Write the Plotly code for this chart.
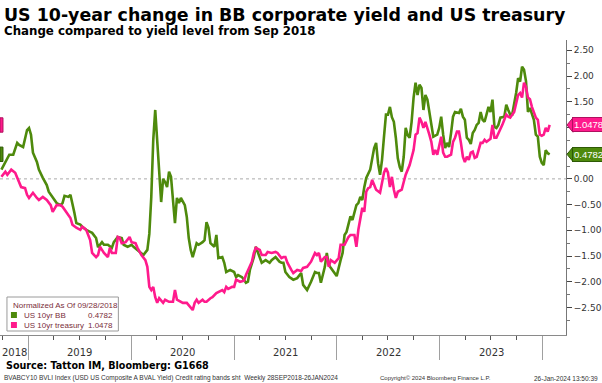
import pandas as pd
import plotly.graph_objects as go

# ---- data (weeks since 2018-09-28) ----
start_date = "2018-09-28"

bb_weeks = [0, 3, 4, 6, 8, 9, 11, 13, 14, 15, 16, 18, 19, 21, 23, 24, 26, 28, 30, 31, 32, 34, 35, 36, 37, 38,
            40, 41, 43, 45, 46, 48, 49, 51, 52, 54, 56, 57, 59, 61, 62, 64, 66, 67, 69, 71, 72, 74, 75, 76,
            77, 78, 79, 80, 81, 82, 83, 84, 85, 86, 87, 88, 89, 90, 91, 93, 94, 95, 96, 97, 99, 100, 102,
            103, 104, 105, 106, 108, 109, 110, 112, 113, 114, 116, 118, 119, 120, 122, 124, 125, 126, 128,
            129, 131, 132, 134, 136, 137, 139, 141, 142, 143, 144, 146, 147, 148, 150, 152, 153, 154, 155,
            157, 159, 160, 161, 162, 164, 165, 166, 167, 169, 170, 172, 173, 174, 175, 177, 178, 180, 181,
            182, 183, 184, 185, 187, 188, 189, 190, 191, 192, 193, 194, 195, 196, 197, 198, 199, 200, 201,
            202, 203, 204, 205, 206, 207, 208, 209, 210, 211, 212, 213, 214, 215, 216, 217, 218, 219, 220,
            221, 222, 223, 224, 225, 226, 227, 228, 229, 230, 232, 233, 234, 235, 236, 237, 238, 239, 240,
            241, 242, 243, 244, 245, 246, 247, 248, 249, 250, 251, 252, 253, 255, 256, 257, 258, 259, 260,
            261, 262, 263, 264, 265, 266, 267, 268, 269, 270, 271, 272, 273, 274, 275, 276, 277, 278]
bb_values = [0.18, 0.41, 0.47, 0.47, 0.70, 0.66, 0.62, 0.95, 0.99, 0.86, 0.51, 0.33, 0.18, 0.02, -0.12, -0.25,
             -0.37, -0.47, -0.51, -0.47, -0.33, -0.35, -0.31, -0.47, -0.66, -0.86,
             -0.89, -0.93, -0.99, -1.03, -1.05, -1.15, -1.33, -1.23, -1.28, -1.28, -1.34, -1.23, -1.13, -1.15,
             -1.28, -1.32, -1.28, -1.32, -1.38, -1.44, -1.48, -1.38, -1.07, -0.35,
             0.76, 1.34, 0.75, 0.18, -0.45, 0.00, -0.06, -0.16, 0.14, 0.04, -0.38, -0.86, -0.37, -0.47, -0.37,
             -0.51, -0.74, -1.15, -1.38, -1.52, -1.25, -1.28, -1.23,
             -1.19, -0.84, -0.95, -1.25, -1.32, -1.09, -1.54, -1.52, -1.63, -1.81, -1.77, -1.81, -1.91, -1.87,
             -1.91, -2.02, -2.00, -1.77, -1.52,
             -1.32, -1.52, -1.63, -1.58, -1.63, -1.58, -1.52, -1.61, -1.63, -1.63, -1.81, -1.91, -1.93, -1.96,
             -1.93, -1.83, -2.06, -2.10, -2.16,
             -2.00, -1.81, -1.83, -1.83, -2.02, -1.71, -1.44, -1.67, -1.73, -1.83, -1.89, -1.58, -1.44, -1.09,
             -1.03, -0.73, -0.80, -0.51, -0.47,
             -0.35, -0.41, -0.16, 0.02, 0.18, 0.37, 0.60, 0.70, 0.30, 0.08, 0.37, 0.82, 1.25, 1.25, 1.40, 1.20,
             1.11, 0.80, 0.40,
             0.23, 0.14, 0.43, 0.99, 0.85, 0.80, 1.11, 1.58, 1.87, 1.63, 1.83, 1.77, 1.34, 1.63, 1.54, 1.30,
             1.11, 0.82, 0.84,
             0.86, 0.99, 1.21, 0.86, 0.60, 0.70, 0.62, 0.89, 1.21, 1.30, 1.28, 1.36, 1.21, 1.15, 0.80, 0.76,
             0.68, 0.89, 0.95,
             1.05, 1.09, 1.30, 1.15, 1.11, 1.25, 1.40, 1.30, 1.54, 1.01, 0.99, 1.05, 1.19, 1.21, 1.44, 1.34,
             1.25, 1.25, 1.44,
             1.67, 1.96, 1.89, 2.18, 2.12, 1.90, 1.30, 1.38, 1.28, 1.15, 0.86, 0.82, 0.43, 0.31, 0.27, 0.56,
             0.50, 0.4782]

ust_weeks = [0, 2, 3, 5, 7, 8, 10, 12, 13, 14, 16, 18, 19, 21, 23, 25, 26, 28, 30, 31, 33, 35, 36, 38, 40, 41,
             43, 45, 46, 47, 48, 49, 50, 51, 52, 54, 55, 56, 58, 59, 60, 61, 63, 65, 66, 68, 69, 71, 72, 73,
             74, 75, 76, 77, 78, 79, 80, 82, 83, 85, 87, 88, 89, 91, 92, 94, 96, 97, 98, 99, 100, 102, 103,
             104, 106, 107, 109, 110, 112, 113, 114, 115, 117, 118, 119, 121, 123, 124, 125, 127, 128, 129,
             131, 132, 134, 135, 137, 139, 140, 142, 143, 144, 145, 146, 147, 148, 150, 152, 153, 155, 157,
             159, 160, 161, 162, 164, 165, 166, 167, 169, 170, 171, 172, 174, 176, 177, 179, 180, 181, 182,
             183, 184, 185, 186, 187, 188, 189, 190, 192, 193, 194, 195, 196, 197, 198, 199, 200, 201, 203,
             204, 205, 207, 209, 210, 211, 212, 213, 214, 215, 217, 218, 219, 220, 221, 222, 223, 224, 225,
             226, 228, 229, 230, 231, 232, 233, 234, 235, 236, 237, 238, 239, 240, 241, 243, 244, 245, 246,
             248, 249, 250, 251, 253, 254, 255, 256, 257, 258, 260, 261, 262, 263, 264, 265, 266, 267, 268,
             269, 270, 271, 272, 273, 274, 275, 276, 277, 278]
ust_values = [0.04, 0.14, 0.08, 0.18, 0.12, 0.02, -0.16, -0.18, -0.31, -0.37, -0.27, -0.37, -0.41, -0.35,
              -0.41, -0.51, -0.64, -0.51, -0.51, -0.54, -0.64, -0.76, -0.89, -0.95, -0.99, -0.93,
              -0.99, -1.19, -1.44, -1.48, -1.52, -1.48, -1.32, -1.38, -1.44, -1.52, -1.34, -1.44, -1.44,
              -1.13, -1.15, -1.25, -1.23, -1.13, -1.23, -1.25, -1.34, -1.48, -1.52, -1.58,
              -1.71, -2.10, -2.16, -2.10, -2.30, -2.41, -2.32, -2.41, -2.35, -2.39, -2.39, -2.16, -2.35,
              -2.39, -2.41, -2.41, -2.51, -2.55, -2.41, -2.35, -2.41, -2.35, -2.39,
              -2.39, -2.32, -2.30, -2.22, -2.20, -2.16, -2.20, -2.10, -2.14, -2.10, -2.10, -1.96, -2.00,
              -1.98, -1.87, -1.77, -1.61, -1.44, -1.34,
              -1.38, -1.48, -1.48, -1.42, -1.44, -1.42, -1.44, -1.54, -1.52, -1.52, -1.63, -1.71, -1.77,
              -1.83, -1.77, -1.79, -1.73, -1.71, -1.61,
              -1.44, -1.48, -1.44, -1.61, -1.52, -1.52, -1.71, -1.58, -1.63, -1.58, -1.54, -1.28, -1.28,
              -1.13, -1.09, -1.09, -1.32, -0.99, -0.80,
              -0.56, -0.64, -0.25, -0.18, -0.16, -0.02, -0.12, -0.21, -0.27, -0.08, 0.12, 0.21, 0.12, -0.16,
              0.04, -0.21, -0.37, -0.25, -0.21,
              -0.06, 0.08, 0.27, 0.56, 0.86, 0.89, 1.19, 1.11, 0.99, 1.11, 0.86, 0.72, 0.47, 0.56, 0.47, 0.66,
              0.82, 0.51, 0.43,
              0.43, 0.47, 0.72, 0.80, 0.92, 0.92, 0.70, 0.43, 0.33, 0.43, 0.37, 0.51, 0.53, 0.41, 0.43, 0.70,
              0.70, 0.76, 0.72,
              0.78, 1.05, 0.80, 0.80, 0.95, 1.05, 1.15, 1.25, 1.21, 1.19, 1.30, 1.44, 1.63, 1.67, 1.58, 1.87,
              1.79, 1.58, 1.55,
              1.40, 1.28, 1.19, 1.15, 0.86, 0.84, 0.86, 0.99, 0.92, 1.0478]

series_names = ["US 10yr BB", "US 10yr treasury"]
last_values = ["0.4782", "1.0478"]
year_labels = ["2018", "2019", "2020", "2021", "2022", "2023"]
year_label_dates = ["2018-11-12", "2019-07-02", "2020-07-02", "2021-07-02", "2022-07-02", "2023-07-02"]
year_bounds = ["2019-01-01", "2020-01-01", "2021-01-01", "2022-01-01", "2023-01-01", "2024-01-01"]
y_ticks = [-2.5, -2.0, -1.5, -1.0, -0.5, 0.0, 0.5, 1.0, 1.5, 2.0, 2.5]
y_minor_ticks = [-2.75, -2.25, -1.75, -1.25, -0.75, -0.25, 0.25, 0.75, 1.25, 1.75, 2.25]

GREEN = "#4E8A0C"
PINK = "#FF1A8C"

t0 = pd.Timestamp(start_date)
bb_dates = [t0 + pd.Timedelta(weeks=w) for w in bb_weeks]
ust_dates = [t0 + pd.Timedelta(weeks=w) for w in ust_weeks]

# plot-area pixel helpers (plot area: x 0..569, y 40..335)
PW, PT, PB = 569.0, 40.0, 335.0
def px(x):
    return x / PW
def py(y):
    return (PB - y) / (PB - PT)

fig = go.Figure()
fig.add_trace(go.Scatter(x=bb_dates, y=bb_values, mode="lines", name=series_names[0],
                         line=dict(color=GREEN, width=2.6), hoverinfo="skip"))
fig.add_trace(go.Scatter(x=ust_dates, y=ust_values, mode="lines", name=series_names[1],
                         line=dict(color=PINK, width=2.6), hoverinfo="skip"))

FONT = "DejaVu Sans"
ann = []
shapes = []

# title / subtitle
ann.append(dict(text="<b>US 10-year change in BB corporate yield and US treasury</b>", x=px(2), y=py(15),
                xref="paper", yref="paper", xanchor="left", yanchor="middle", showarrow=False,
                font=dict(family=FONT, size=17.4, color="#000")))
ann.append(dict(text="<b>Change compared to yield level from Sep 2018</b>", x=px(2), y=py(31),
                xref="paper", yref="paper", xanchor="left", yanchor="middle", showarrow=False,
                font=dict(family=FONT, size=11.8, color="#000")))

# year labels
for lab, d in zip(year_labels, year_label_dates):
    ann.append(dict(text=lab, x=d, y=py(352), xref="x", yref="paper", xanchor="center", yanchor="middle",
                    showarrow=False, font=dict(family=FONT, size=10, color="#333")))

# source & footer
ann.append(dict(text="<b>Source: Tatton IM, Bloomberg: G1668</b>", x=px(4), y=py(366), xref="paper",
                yref="paper", xanchor="left", yanchor="middle", showarrow=False,
                font=dict(family=FONT, size=9.6, color="#000")))
ann.append(dict(text="BVABCY10 BVLI Index (USD US Composite A BVAL Yield) Credit rating bands sht  Weekly 28SEP2018-26JAN2024",
                x=px(2), y=py(378), xref="paper", yref="paper", xanchor="left", yanchor="middle",
                showarrow=False, font=dict(family="Liberation Sans", size=6.5, color="#333")))
ann.append(dict(text="Copyright© 2024 Bloomberg Finance L.P.", x=px(380), y=py(378), xref="paper",
                yref="paper", xanchor="left", yanchor="middle", showarrow=False,
                font=dict(family="Liberation Sans", size=6, color="#333")))
ann.append(dict(text="26-Jan-2024 13:50:39", x=px(535), y=py(378), xref="paper", yref="paper",
                xanchor="left", yanchor="middle", showarrow=False,
                font=dict(family="Liberation Sans", size=6.5, color="#333")))

# zero dotted line
shapes.append(dict(type="line", xref="paper", x0=0, x1=1, yref="y", y0=0, y1=0,
                   line=dict(color="#AAAAAA", width=1, dash="dot"), layer="below"))

# right value tags and left cut tags
for val, txt, col, border in [(ust_values[-1], last_values[1], PINK, "#B0105F"),
                              (bb_values[-1], last_values[0], GREEN, "#2E5A05")]:
    ann.append(dict(text=txt, x=px(575), y=val, xref="paper", yref="y", xanchor="left", yanchor="middle",
                    showarrow=False, bgcolor=col, bordercolor=border, borderwidth=1, borderpad=1,
                    font=dict(family="Liberation Sans", size=9.5, color="white")))
    shapes.append(dict(type="path", xref="paper", yref="y",
                       path=f"M {px(570)},{val} L {px(576)},{val + 0.14} L {px(576)},{val - 0.14} Z",
                       fillcolor=col, line=dict(color=border, width=1)))
    shapes.append(dict(type="rect", xref="paper", yref="y", x0=0, x1=px(3), y0=val - 0.14, y1=val + 0.14,
                       fillcolor=col, line=dict(color=border, width=1)))

# legend box
shapes.append(dict(type="rect", xref="paper", yref="paper", x0=px(7), x1=px(119), y0=py(331), y1=py(297),
                   fillcolor="white", line=dict(color="#9A9A9A", width=1)))
ann.append(dict(text="Normalized As Of 09/28/2018", x=px(11), y=py(305), xref="paper", yref="paper",
                xanchor="left", yanchor="middle", showarrow=False,
                font=dict(family="Liberation Sans", size=8, color="#7A2E3A")))
for i, (nm, lv, col) in enumerate(zip(series_names, last_values, [GREEN, PINK])):
    yy = 315 + i * 10
    shapes.append(dict(type="rect", xref="paper", yref="paper", x0=px(11), x1=px(17), y0=py(yy + 3),
                       y1=py(yy - 3), fillcolor=col, line=dict(width=0)))
    ann.append(dict(text=nm, x=px(22), y=py(yy), xref="paper", yref="paper", xanchor="left",
                    yanchor="middle", showarrow=False,
                    font=dict(family="Liberation Sans", size=8, color="#7A2E3A")))
    ann.append(dict(text=lv, x=px(86), y=py(yy), xref="paper", yref="paper", xanchor="left",
                    yanchor="middle", showarrow=False,
                    font=dict(family="Liberation Sans", size=8, color="#7A2E3A")))

fig.update_layout(
    width=602, height=383,
    margin=dict(l=0, r=33, t=40, b=48),
    paper_bgcolor="white", plot_bgcolor="white",
    showlegend=False,
    annotations=ann, shapes=shapes,
    xaxis=dict(type="date", range=["2018-09-23", "2024-03-24"], showgrid=False, zeroline=False,
               showline=True, linecolor="#8A8A8A", linewidth=1,
               tickmode="array", tickvals=year_bounds, ticks="outside", ticklen=24, tickcolor="#A0A0A0",
               tickwidth=1, showticklabels=False,
               minor=dict(dtick="M3", tick0="2019-01-01", ticks="outside", ticklen=4, tickcolor="#555",
                          showgrid=False)),
    yaxis=dict(side="right", range=[-3.035, 2.70], showgrid=False, zeroline=False,
               showline=True, linecolor="#777", linewidth=1,
               tickmode="array", tickvals=y_ticks, tickformat=".2f", ticks="outside", ticklen=5,
               tickcolor="#444", tickfont=dict(family=FONT, size=9, color="#333"),
               minor=dict(tickmode="array", tickvals=y_minor_ticks, ticks="outside", ticklen=3,
                          tickcolor="#777", showgrid=False)),
)

fig.write_html("out.html", config={"displayModeBar": False},
               post_script="document.body.style.margin='0px';document.body.style.padding='0px';"
                           "document.body.style.overflow='hidden';")
